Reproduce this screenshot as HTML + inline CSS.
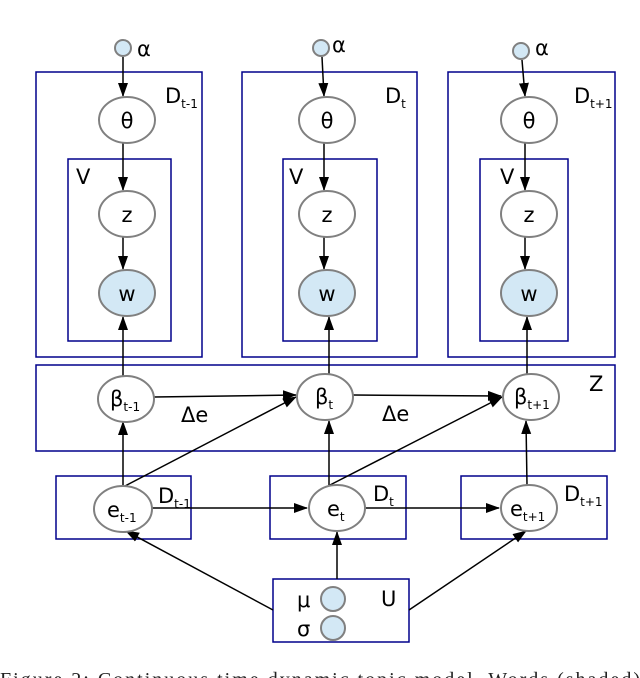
<!DOCTYPE html>
<html><head><meta charset="utf-8"><style>body{margin:0;background:#fff}svg{display:block}</style></head><body>
<svg width="640" height="678" viewBox="0 0 640 678" xmlns="http://www.w3.org/2000/svg" font-family="'DejaVu Sans','Liberation Sans',sans-serif">
<defs><marker id="a" markerWidth="14" markerHeight="12" refX="13" refY="5" orient="auto" markerUnits="userSpaceOnUse" viewBox="0 0 14 10"><path d="M0,0L14,5L0,10z" fill="#000"/></marker></defs>
<g fill="none" stroke="#00008b" stroke-width="1.5">
<rect x="36" y="72" width="166" height="285"/><rect x="68" y="159" width="103" height="182"/>
<rect x="242" y="72" width="175" height="285"/><rect x="283" y="159" width="94" height="182"/>
<rect x="448" y="72" width="167" height="285"/><rect x="480" y="159" width="88" height="182"/>
<rect x="36" y="365" width="579" height="86"/>
<rect x="56" y="476" width="135" height="63"/><rect x="270" y="476" width="136" height="63"/><rect x="461" y="476" width="146" height="63"/>
<rect x="273" y="579" width="136" height="63"/>
</g>
<g stroke="#000" stroke-width="1.5" marker-end="url(#a)">
<line x1="123" y1="57" x2="123" y2="96"/><line x1="123" y1="143" x2="123" y2="190"/><line x1="123" y1="237" x2="123" y2="269"/>
<line x1="322" y1="57" x2="324" y2="96"/><line x1="324" y1="143" x2="324" y2="190"/><line x1="324" y1="237" x2="324" y2="269"/>
<line x1="522" y1="60" x2="525" y2="96"/><line x1="525" y1="143" x2="525" y2="190"/><line x1="525" y1="237" x2="525" y2="269"/>
<line x1="123" y1="376" x2="123" y2="317"/><line x1="329" y1="376" x2="329" y2="317"/><line x1="527" y1="376" x2="527" y2="317"/>
<line x1="154" y1="397" x2="296" y2="395"/><line x1="353" y1="395" x2="501" y2="396"/>
<line x1="123" y1="486" x2="123" y2="422"/><line x1="329" y1="485" x2="329" y2="421"/><line x1="527" y1="485" x2="526" y2="421"/>
<line x1="125" y1="486" x2="296" y2="397"/><line x1="330" y1="485" x2="502" y2="397"/>
<line x1="152" y1="508" x2="307" y2="508"/><line x1="366" y1="508" x2="499" y2="508"/>
<line x1="337" y1="579" x2="337" y2="532"/><line x1="273" y1="610" x2="126" y2="531"/><line x1="409" y1="610" x2="526" y2="531"/>
</g>
<g stroke="#808080" stroke-width="2">
<ellipse cx="123" cy="48" rx="8" ry="8" fill="#d3e8f5"/><ellipse cx="321" cy="48" rx="8" ry="8" fill="#d3e8f5"/><ellipse cx="521" cy="51" rx="8" ry="8" fill="#d3e8f5"/>
<g fill="#fff">
<ellipse cx="127" cy="120" rx="28" ry="23"/><ellipse cx="127" cy="214" rx="28" ry="23"/>
<ellipse cx="327" cy="120" rx="28" ry="23"/><ellipse cx="327" cy="214" rx="28" ry="23"/>
<ellipse cx="529" cy="120" rx="28" ry="23"/><ellipse cx="529" cy="214" rx="28" ry="23"/>
<ellipse cx="126" cy="399" rx="28" ry="23"/><ellipse cx="325" cy="397" rx="28" ry="23"/><ellipse cx="531" cy="397" rx="28" ry="23"/>
<ellipse cx="123" cy="509" rx="29" ry="23"/><ellipse cx="337" cy="508" rx="28" ry="23"/><ellipse cx="529" cy="508" rx="28" ry="23"/>
</g>
<g fill="#d3e8f5">
<ellipse cx="127" cy="293" rx="28" ry="23"/><ellipse cx="327" cy="293" rx="28" ry="23"/><ellipse cx="529" cy="293" rx="28" ry="23"/>
<ellipse cx="333" cy="599" rx="12" ry="12"/><ellipse cx="333" cy="628" rx="12" ry="12"/>
</g>
</g>
<g font-size="21" fill="#000">
<text x="137" y="56">α</text><text x="332" y="52">α</text><text x="535" y="55">α</text>
<g text-anchor="middle"><text x="127" y="128">θ</text><text x="327" y="128">θ</text><text x="529" y="128">θ</text>
<text x="127" y="222">z</text><text x="327" y="222">z</text><text x="529" y="222">z</text>
<text x="127" y="301">w</text><text x="327" y="301">w</text><text x="529" y="301">w</text></g>
<text x="76" y="184">V</text><text x="289" y="184">V</text><text x="500" y="184">V</text>
<text x="165" y="103">D<tspan font-size="12" dy="5">t-1</tspan></text>
<text x="385" y="103">D<tspan font-size="12" dy="5">t</tspan></text>
<text x="574" y="103">D<tspan font-size="12" dy="5">t+1</tspan></text>
<text x="110" y="406">β<tspan font-size="12" dy="5">t-1</tspan></text>
<text x="315" y="404">β<tspan font-size="12" dy="5">t</tspan></text>
<text x="514" y="404">β<tspan font-size="12" dy="5">t+1</tspan></text>
<text x="181" y="422">Δe</text><text x="382" y="421">Δe</text>
<text x="589" y="391">Z</text>
<text x="107" y="517">e<tspan font-size="12" dy="5">t-1</tspan></text>
<text x="327" y="516">e<tspan font-size="12" dy="5">t</tspan></text>
<text x="510" y="516">e<tspan font-size="12" dy="5">t+1</tspan></text>
<text x="158" y="503">D<tspan font-size="12" dy="5">t-1</tspan></text>
<text x="373" y="501">D<tspan font-size="12" dy="5">t</tspan></text>
<text x="564" y="501">D<tspan font-size="12" dy="5">t+1</tspan></text>
<text x="297" y="607">μ</text><text x="297" y="636">σ</text><text x="381" y="606">U</text>
</g>
<text x="0" y="686" font-family="'Liberation Serif',serif" font-size="20" fill="#222" textLength="640">Figure 2: Continuous time dynamic topic model. Words (shaded)</text>
</svg>
</body></html>
